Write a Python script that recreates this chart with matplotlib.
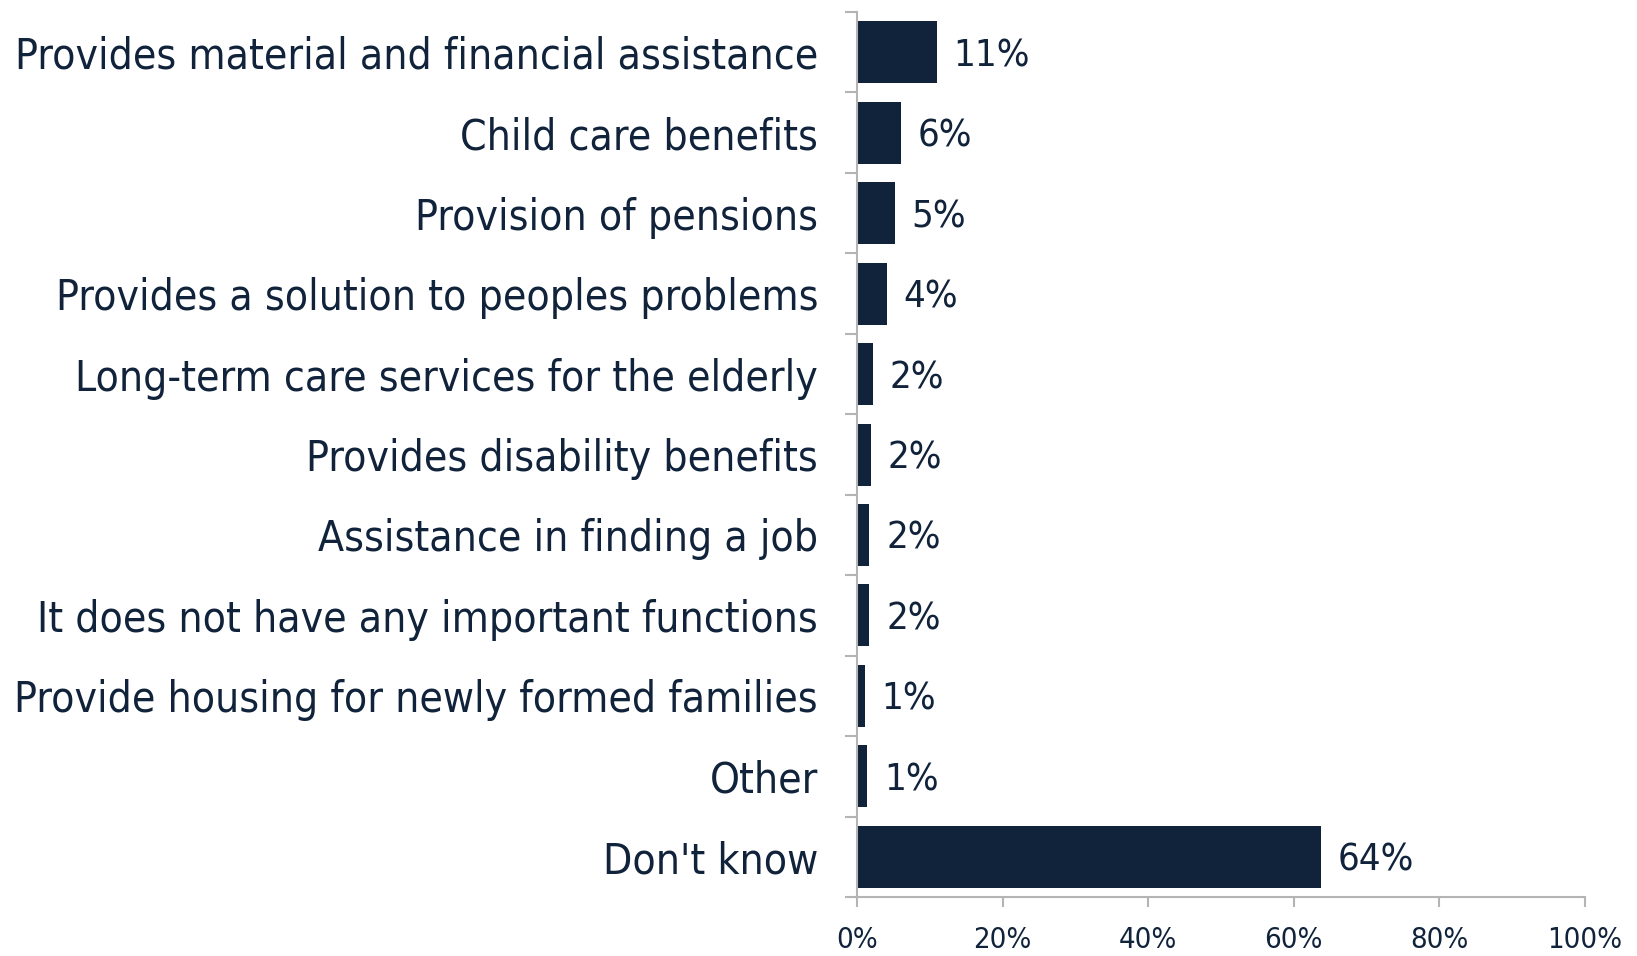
import matplotlib
matplotlib.use("Agg")
import matplotlib.pyplot as plt
from matplotlib.ticker import FuncFormatter

CATEGORIES = [
    "Provides material and financial assistance",
    "Child care benefits",
    "Provision of pensions",
    "Provides a solution to peoples problems",
    "Long-term care services for the elderly",
    "Provides disability benefits",
    "Assistance in finding a job",
    "It does not have any important functions",
    "Provide housing for newly formed families",
    "Other",
    "Don't know",
]
VALUES = [11.0, 6.0, 5.2, 4.1, 2.2, 1.9, 1.7, 1.7, 1.1, 1.4, 63.7]
LABELS = ["11%", "6%", "5%", "4%", "2%", "2%", "2%", "2%", "1%", "1%", "64%"]
XTICKS = [0, 20, 40, 60, 80, 100]

NAVY = "#10233b"
GREY = "#b4b4b4"

plt.rcParams["font.family"] = ["DejaVu Sans"]
plt.rcParams["font.stretch"] = "condensed"

fig = plt.figure(figsize=(16.37, 9.56), dpi=100)
ax = fig.add_axes([0.5235, 0.0617, 0.4447, 0.9257])

pos = list(range(len(CATEGORIES)))
ax.barh(pos, VALUES, height=0.77, color=NAVY)
for p, v, lab in zip(pos, VALUES, LABELS):
    ax.annotate(lab, (v, p), xytext=(12, 0), textcoords="offset points",
                va="center_baseline", ha="left", fontsize=27.5, color=NAVY)

ax.set_ylim(len(CATEGORIES) - 0.5, -0.5)
ax.set_xlim(0, 100)
ax.set_yticks([i - 0.5 for i in range(len(CATEGORIES) + 1)], minor=False)
ax.set_yticklabels([])
ax.set_yticks(pos, minor=True)
ax.set_yticklabels(CATEGORIES, minor=True, va="center_baseline")
ax.tick_params(axis="y", which="minor", length=0, pad=28, labelsize=30.5, labelcolor=NAVY)
ax.tick_params(axis="y", which="major", length=9, width=1.5, color=GREY)

ax.set_xticks(XTICKS)
ax.xaxis.set_major_formatter(FuncFormatter(lambda x, _: f"{x:.0f}%"))
ax.tick_params(axis="x", length=7, width=1.5, color=GREY, pad=14,
               labelsize=21, labelcolor=NAVY)

for s in ["top", "right"]:
    ax.spines[s].set_visible(False)
for s in ["left", "bottom"]:
    ax.spines[s].set_color(GREY)
    ax.spines[s].set_linewidth(1.5)

fig.savefig("out.png", dpi=100)
